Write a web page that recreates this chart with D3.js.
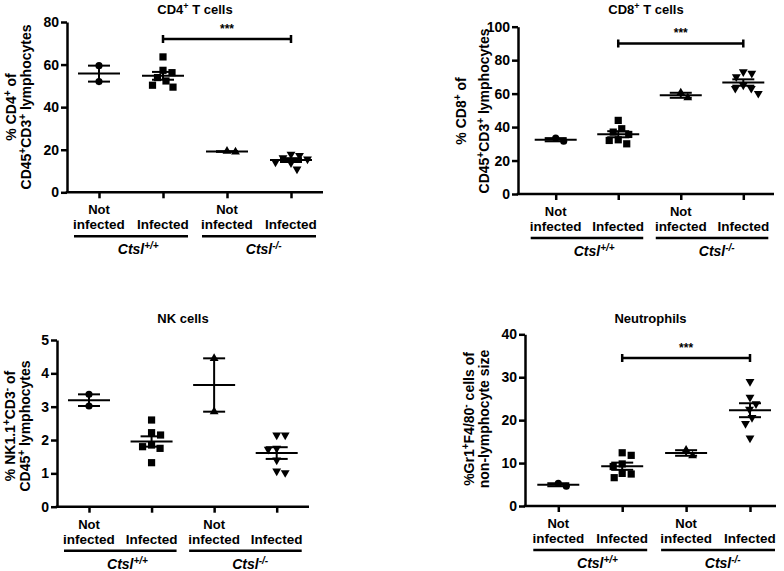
<!DOCTYPE html>
<html><head><meta charset="utf-8">
<script src="https://cdn.jsdelivr.net/npm/d3@7"></script>
<style>
body{margin:0;background:#fff}
svg{display:block}
text{font-family:"Liberation Sans",Arial,Helvetica,sans-serif;font-weight:bold;fill:#000}
</style>
</head><body>
<svg id="chart" width="784" height="571"></svg>
<script>
// ---------------- DATA ----------------
const categories = ["Not infected", "Infected", "Not infected", "Infected"];
const catLine1 = ["Not", "", "Not", ""];
const catLine2 = ["infected", "Infected", "infected", "Infected"];
const genotypes = ["Ctsl", "Ctsl"];
const genotypeSup = ["+/+", "-/-"];
const markerShapes = ["circle", "square", "triangle", "triangleDown"];

const cd4Title = "CD4^{+} T cells";
const cd4YLabel = ["% CD4^{+} of", "CD45^{+}CD3^{+} lymphocytes"];
const cd4Ticks = [0, 20, 40, 60, 80];
const cd4Values = [
  [59.5, 52.0],
  [52.3, 57.3, 49.4, 63.6, 50.3, 56.2, 53.9],
  [19.0, 19.3],
  [13.8, 17.3, 10.9, 16.2, 14.2, 17.9, 15.6]
];
const cd4Sig = {from: 1, to: 3, level: 72, label: "***"};

const cd8Title = "CD8^{+} T cells";
const cd8YLabel = ["% CD8^{+} of", "CD45^{+}CD3^{+} lymphocytes"];
const cd8Ticks = [0, 20, 40, 60, 80, 100];
const cd8Values = [
  [31.5, 33.4],
  [37.0, 32.4, 44.0, 35.6, 30.0, 39.0, 32.0],
  [57.5, 60.5],
  [72.1, 70.0, 73.0, 63.1, 60.1, 63.1, 65.1]
];
const cd8Sig = {from: 1, to: 3, level: 90, label: "***"};

const nkTitle = "NK cells";
const nkYLabel = ["% NK1.1^{+}CD3^{-} of", "CD45^{+} lymphocytes"];
const nkTicks = [0, 1, 2, 3, 4, 5];
const nkValues = [
  [3.37, 3.02],
  [1.75, 2.15, 2.6, 1.8, 1.32, 2.22, 1.85],
  [4.45, 2.85],
  [2.15, 1.72, 1.02, 1.4, 2.15, 1.75, 1.07]
];
const nkSig = null;

const neuTitle = "Neutrophils";
const neuYLabel = ["%Gr1^{+}F4/80^{-} cells of", "non-lymphocyte size"];
const neuTicks = [0, 10, 20, 30, 40];
const neuValues = [
  [4.6, 5.3],
  [11.8, 7.6, 9.8, 6.6, 12.4, 9.2, 7.45],
  [11.7, 13.0],
  [22.5, 29.0, 25.3, 20.6, 15.8, 23.8, 19.2]
];
const neuSig = {from: 1, to: 3, level: 34.5, label: "***"};

// ---------------- LAYOUT ----------------
const panels = [
  {title: cd4Title, ylab: cd4YLabel, ticks: cd4Ticks, values: cd4Values, sig: cd4Sig,
   x0: 67, x1: 323, c0: 99, c1: 291, yTop: 22, yBot: 192.3, titleY: 14, lab1: 16, lab2: 31, labCY: 107},
  {title: cd8Title, ylab: cd8YLabel, ticks: cd8Ticks, values: cd8Values, sig: cd8Sig,
   x0: 518, x1: 774, c0: 555.7, c1: 743.3, yTop: 26.7, yBot: 194, titleY: 14, lab1: 466, lab2: 489, labCY: 111},
  {title: nkTitle, ylab: nkYLabel, ticks: nkTicks, values: nkValues, sig: nkSig,
   x0: 57, x1: 309, c0: 89, c1: 276.7, yTop: 340, yBot: 506.7, titleY: 323, lab1: 15, lab2: 30, labCY: 426},
  {title: neuTitle, ylab: neuYLabel, ticks: neuTicks, values: neuValues, sig: neuSig,
   x0: 525, x1: 776, c0: 558.3, c1: 750, yTop: 334.3, yBot: 506, titleY: 323, lab1: 474, lab2: 489, labCY: 419}
];

const svg = d3.select("#chart");

function richText(sel, str, supSize) {
  const parts = str.split(/(\^\{[^}]*\})/).filter(s => s.length);
  let raised = false;
  parts.forEach(p => {
    if (p.startsWith("^{")) {
      sel.append("tspan").attr("font-size", supSize).attr("dy", raised ? 0 : -5).text(p.slice(2, -1));
      raised = true;
    } else {
      sel.append("tspan").attr("dy", raised ? 5 : 0).text(p);
      raised = false;
    }
  });
}

function symbolFor(shape, size) {
  const t = shape === "circle" ? d3.symbolCircle : shape === "square" ? d3.symbolSquare : d3.symbolTriangle;
  return d3.symbol().type(t).size(size)();
}
const markerSize = {circle: 40, square: 52, triangle: 34, triangleDown: 34};

function swarm(vals, y, diam) {
  const order = vals.map((v, i) => i).sort((a, b) => vals[b] - vals[a]);
  const placed = [];
  const offs = new Array(vals.length).fill(0);
  let lastSign = -1;
  order.forEach(i => {
    const py = y(vals[i]);
    let off = 0;
    outer:
    for (let k = 0; k < 400; k++) {
      const cands = k === 0 ? [0] : (lastSign > 0 ? [-k * 0.5, k * 0.5] : [k * 0.5, -k * 0.5]);
      for (const c of cands) {
        if (placed.every(p => (p.x - c) ** 2 + (p.y - py) ** 2 >= diam * diam)) { off = c; break outer; }
      }
    }
    if (off !== 0) lastSign = Math.sign(off);
    placed.push({x: off, y: py});
    offs[i] = off;
  });
  return offs;
}

panels.forEach(P => {
  const g = svg.append("g");
  const maxV = P.ticks[P.ticks.length - 1];
  const y = d3.scaleLinear().domain([0, maxV]).range([P.yBot, P.yTop]);
  const x = d3.scalePoint().domain(d3.range(categories.length)).range([P.c0, P.c1]);

  // title
  const tt = g.append("text").attr("x", (P.x0 + P.x1) / 2).attr("y", P.titleY)
    .attr("text-anchor", "middle").attr("font-size", 13);
  richText(tt, P.title, 9);

  // y axis
  const ya = g.append("g").attr("transform", `translate(${P.x0},0)`)
    .call(d3.axisLeft(y).tickValues(P.ticks).tickSize(6).tickSizeOuter(0).tickPadding(2).tickFormat(d3.format("d")));
  ya.select(".domain").attr("stroke", "#000").attr("stroke-width", 2.5);
  ya.selectAll(".tick line").attr("stroke", "#000").attr("stroke-width", 2.5);
  ya.selectAll(".tick text").attr("font-size", 14).attr("font-family", null).attr("fill", "#000");

  // x axis
  g.append("line").attr("x1", P.x0 - 1.25).attr("x2", P.x1).attr("y1", P.yBot).attr("y2", P.yBot)
    .attr("stroke", "#000").attr("stroke-width", 2.5);
  const xa = g.append("g").attr("transform", `translate(0,${P.yBot})`)
    .call(d3.axisBottom(x).tickSize(6).tickSizeOuter(0).tickFormat(""));
  xa.select(".domain").remove();
  xa.selectAll(".tick line").attr("stroke", "#000").attr("stroke-width", 2.5);

  // category labels
  categories.forEach((c, i) => {
    if (catLine1[i]) g.append("text").attr("x", x(i)).attr("y", P.yBot + 22).attr("text-anchor", "middle")
      .attr("font-size", 13).text(catLine1[i]);
    g.append("text").attr("x", x(i)).attr("y", P.yBot + 37).attr("text-anchor", "middle")
      .attr("font-size", 13.5).text(catLine2[i]);
  });

  // genotype underlines + labels
  genotypes.forEach((gn, j) => {
    const a = x(j * 2), b = x(j * 2 + 1);
    g.append("line").attr("x1", a - 25).attr("x2", b + 25).attr("y1", P.yBot + 44).attr("y2", P.yBot + 44)
      .attr("stroke", "#000").attr("stroke-width", 2.5);
    const t = g.append("text").attr("y", P.yBot + 62).attr("font-size", 14).attr("font-style", "italic");
    const base = t.append("tspan").text(gn);
    t.append("tspan").attr("font-size", 10).attr("dy", -5).text(genotypeSup[j]);
    const w = base.node().getComputedTextLength();
    t.attr("x", (a + b) / 2 - w / 2);
  });

  // y label
  P.ylab.forEach((line, k) => {
    const t = g.append("text").attr("text-anchor", "middle").attr("font-size", 14)
      .attr("transform", `translate(${k === 0 ? P.lab1 : P.lab2},${P.labCY}) rotate(-90)`);
    richText(t, line, 10);
  });

  // data
  P.values.forEach((vals, gi) => {
    const shape = markerShapes[gi];
    const cx = x(gi);
    const offs = swarm(vals, y, shape === "square" ? 9 : 8.5);
    const path = symbolFor(shape, markerSize[shape]);
    g.selectAll(null).data(vals).enter().append("path")
      .attr("d", path).attr("fill", "#000")
      .attr("transform", (d, i) => `translate(${cx + offs[i]},${y(d)})` + (shape === "triangleDown" ? " rotate(180)" : ""));
    const m = d3.mean(vals);
    const sem = d3.deviation(vals) / Math.sqrt(vals.length);
    const lines = [
      [cx - 21, y(m), cx + 21, y(m)],
      [cx, y(m - sem), cx, y(m + sem)],
      [cx - 11, y(m - sem), cx + 11, y(m - sem)],
      [cx - 11, y(m + sem), cx + 11, y(m + sem)]
    ];
    lines.forEach(l => g.append("line").attr("x1", l[0]).attr("y1", l[1]).attr("x2", l[2]).attr("y2", l[3])
      .attr("stroke", "#000").attr("stroke-width", 2));
  });

  // significance bracket
  if (P.sig) {
    const a = x(P.sig.from), b = x(P.sig.to), yy = y(P.sig.level);
    g.append("path").attr("d", `M${a},${yy - 4}V${yy + 4}M${a},${yy}H${b}M${b},${yy - 4}V${yy + 4}`)
      .attr("fill", "none").attr("stroke", "#000").attr("stroke-width", 2.5);
    g.append("text").attr("x", (a + b) / 2).attr("y", yy - 6).attr("text-anchor", "middle")
      .attr("font-size", 12).attr("fill", "#222").text(P.sig.label);
  }
});
</script>
</body></html>
